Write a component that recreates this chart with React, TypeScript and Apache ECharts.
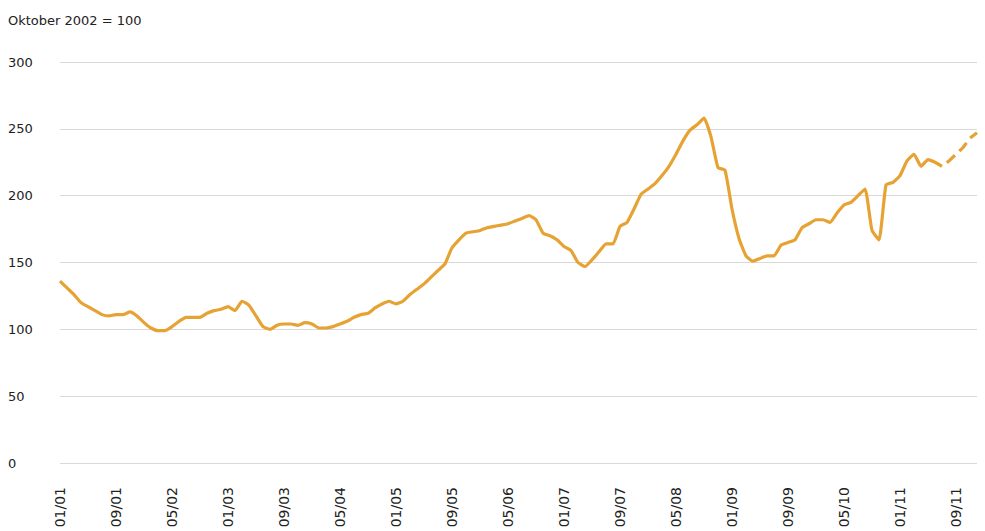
import React, { useEffect, useRef } from "react";
import * as echarts from "echarts";

const years = ["01", "02", "03", "04", "05", "06", "07", "08", "09", "10", "11"];
const months = ["01", "02", "03", "04", "05", "06", "07", "08", "09", "10", "11", "12"];
const categories: string[] = [];
years.forEach((y) => months.forEach((m) => categories.push(`${m}/${y}`)));

const titleText = "Oktober 2002 = 100";
const yTicks = { min: 0, max: 300, interval: 50 };

// Index, Oktober 2002 = 100, monthly from 01/01 to 07/11 (solid)
const indexActual = [
  136, 131, 126, 120, 117, 114, 111, 110, 111, 111, 113, 110,
  105, 101, 99, 99, 102, 106, 109, 109, 109, 112, 114, 115,
  117, 114, 121, 118, 110, 102, 100, 103, 104, 104, 103, 105,
  104, 101, 101, 102, 104, 106, 109, 111, 112, 116, 119, 121,
  119, 121, 126, 130, 134, 139, 144, 149, 161, 167, 172, 173,
  174, 176, 177, 178, 179, 181, 183, 185, 182, 172, 170, 167,
  162, 159, 150, 147, 152, 158, 164, 164, 177, 180, 190, 201,
  205, 209, 215, 222, 231, 241, 249, 253, 258, 244, 221, 219,
  190, 168, 155, 151, 153, 155, 155, 163, 165, 167, 176, 179,
  182, 182, 180, 187, 193, 195, 200, 205, 174, 167, 208, 210,
  215, 226, 231, 222, 227, 225, 222,
];
// Projection (dashed), 07/11 to 12/11
const projectionStart = 126;
const indexProjection = [222, 226, 231, 236, 243, 247];

export default function App() {
  const ref = useRef<HTMLDivElement>(null);
  useEffect(() => {
    document.body.style.margin = "0";
    if (!ref.current) return;
    const chart = echarts.init(ref.current, null, { renderer: "svg" });
    const projData: (number | string)[] = categories.map(() => "-");
    indexProjection.forEach((v, i) => (projData[projectionStart + i] = v));
    const lineColor = "#E6A233";
    chart.setOption({
      animation: false,
      backgroundColor: "#ffffff",
      title: {
        text: titleText,
        left: 8,
        top: 14,
        padding: 0,
        textStyle: { fontFamily: "DejaVu Sans", fontSize: 13, fontWeight: "normal", color: "#222" },
      },
      grid: { left: 60, right: 8, top: 62, bottom: 68, containLabel: false },
      xAxis: {
        type: "category",
        data: categories,
        boundaryGap: false,
        axisLine: { show: false },
        axisTick: { show: false },
        splitLine: { show: false },
        axisLabel: {
          interval: 7,
          rotate: 90,
          margin: 24,
          fontFamily: "DejaVu Sans",
          fontSize: 14,
          color: "#222",
        },
      },
      yAxis: {
        type: "value",
        min: yTicks.min,
        max: yTicks.max,
        interval: yTicks.interval,
        axisLine: { show: false },
        axisTick: { show: false },
        splitLine: { show: true, lineStyle: { color: "#d9d9d9", width: 1 } },
        axisLabel: {
          align: "left",
          margin: 52,
          fontFamily: "DejaVu Sans",
          fontSize: 13,
          color: "#222",
        },
      },
      series: [
        {
          type: "line",
          data: indexActual,
          showSymbol: false,
          symbol: "none",
          smooth: 0.15,
          lineStyle: { color: lineColor, width: 3.2 },
          itemStyle: { color: lineColor },
        },
        {
          type: "line",
          data: projData,
          showSymbol: false,
          symbol: "none",
          lineStyle: { color: lineColor, width: 3.2, type: [11, 6], dashOffset: 11 },
          itemStyle: { color: lineColor },
        },
      ],
    });
    return () => chart.dispose();
  }, []);
  return <div ref={ref} style={{ width: 985, height: 531 }} />;
}
